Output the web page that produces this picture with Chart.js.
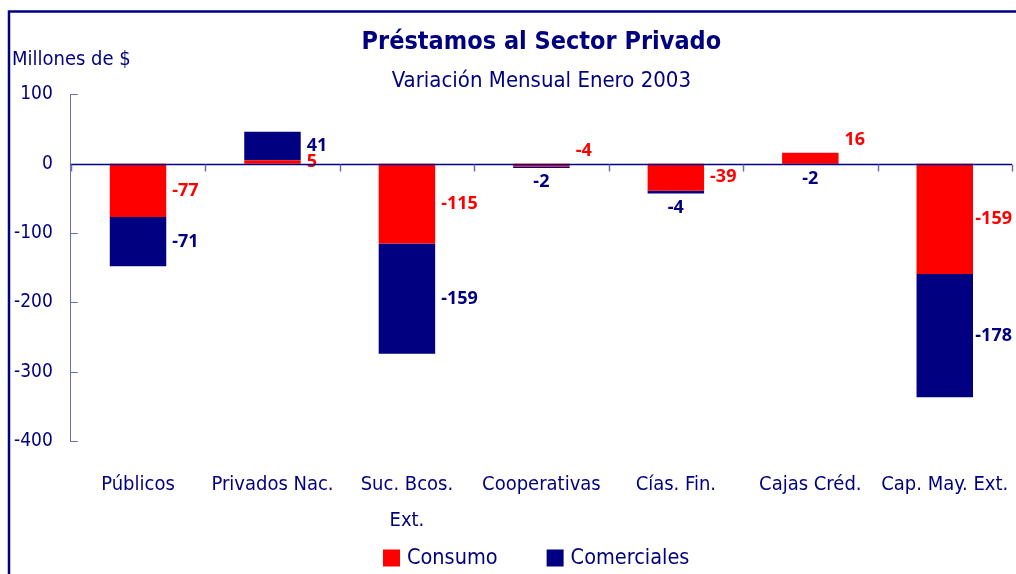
<!DOCTYPE html>
<html>
<head>
<meta charset="utf-8">
<script src="https://cdn.jsdelivr.net/npm/chart.js@4.4.0/dist/chart.umd.min.js"></script>
<style>
  html, body { margin: 0; padding: 0; background: #fff; }
  #wrap { width: 1016px; height: 574px; position: relative; }
</style>
</head>
<body>
<div id="wrap"><canvas id="chart" width="1016" height="574"></canvas></div>
<script>
// ── Data ────────────────────────────────────────────────────────────────
const categories = ['Públicos', 'Privados Nac.', ['Suc. Bcos.', 'Ext.'], 'Cooperativas', 'Cías. Fin.', 'Cajas Créd.', 'Cap. May. Ext.'];
const consumo     = [-77, 5, -115, -4, -39, 16, -159];
const comerciales = [-71, 41, -159, -2, -4, -2, -178];
const yTicks      = [100, 0, -100, -200, -300, -400];

// where each value label sits relative to its bar segment
const consumoLabelPos     = ['right', 'right', 'right', 'aboveRight', 'right', 'aboveRight', 'right'];
const comercialesLabelPos = ['right', 'right', 'right', 'below', 'below', 'below', 'right'];

const NAVY = '#000080';
const RED = '#FF0000';
const AXIS = '#6C6CB0';
const FONT = '"DejaVu Sans Condensed", "DejaVu Sans", sans-serif';
const LABEL_FONT = '"Noto Sans", sans-serif';

// ── Value labels beside the segments ───────────────────────────────────
const barLabels = {
  id: 'barLabels',
  afterDatasetsDraw(chart) {
    const { ctx, chartArea } = chart;
    ctx.save();
    ctx.font = `bold 18px ${LABEL_FONT}`;
    ctx.textBaseline = 'middle';
    chart.data.datasets.forEach((ds, di) => {
      const meta = chart.getDatasetMeta(di);
      meta.data.forEach((bar, i) => {
        const { x, y, base, width } = bar.getProps(['x', 'y', 'base', 'width'], true);
        const top = Math.min(y, base), bottom = Math.max(y, base);
        const txt = String(ds.data[i]);
        let tx = x + width / 2 + 6, ty = (top + bottom) / 2;
        ctx.textAlign = 'left';
        const pos = ds.labelPos[i];
        if (pos === 'below') { tx = x; ty = bottom + 14; ctx.textAlign = 'center'; }
        if (pos === 'aboveRight') { ty = top - 13; }
        // keep labels inside the plot on the right
        if (ctx.textAlign === 'left') {
          tx = Math.min(tx, chartArea.right - ctx.measureText(txt).width);
        }
        ctx.fillStyle = ds.backgroundColor;
        ctx.fillText(txt, tx, ty);
      });
    });
    ctx.restore();
  }
};

// ── Frame, zero line, ticks, unit label, legend ────────────────────────
const decorations = {
  id: 'decorations',
  afterDraw(chart) {
    const { ctx, chartArea: a, scales: { y } } = chart;
    ctx.save();

    // outer frame (left + top visible)
    ctx.strokeStyle = NAVY;
    ctx.lineWidth = 2.5;
    ctx.beginPath();
    ctx.moveTo(9, 574); ctx.lineTo(9, 11.5); ctx.lineTo(1016, 11.5);
    ctx.stroke();

    // inward y ticks
    ctx.strokeStyle = AXIS;
    ctx.lineWidth = 1;
    yTicks.forEach(v => {
      if (v === 0) return;
      const py = Math.round(y.getPixelForValue(v)) + 0.5;
      ctx.beginPath(); ctx.moveTo(a.left, py); ctx.lineTo(a.left + 7, py); ctx.stroke();
    });

    // zero line
    const zy = Math.round(y.getPixelForValue(0)) + 0.5;
    ctx.strokeStyle = NAVY;
    ctx.lineWidth = 1.5;
    ctx.beginPath(); ctx.moveTo(a.left, zy); ctx.lineTo(a.right, zy); ctx.stroke();

    // category ticks under the zero line
    ctx.strokeStyle = AXIS;
    ctx.lineWidth = 1.5;
    const step = (a.right - a.left) / categories.length;
    for (let i = 0; i <= categories.length; i++) {
      const px = Math.round(a.left + i * step) + 0.5;
      ctx.beginPath(); ctx.moveTo(px, zy); ctx.lineTo(px, zy + 7); ctx.stroke();
    }

    // unit label
    ctx.fillStyle = NAVY;
    ctx.font = `20px ${FONT}`;
    ctx.textAlign = 'left';
    ctx.textBaseline = 'middle';
    ctx.fillText('Millones de $', 12, 60);

    // legend
    ctx.font = `21.5px ${FONT}`;
    let lx = 383;
    const ly = 558;
    chart.data.datasets.forEach(ds => {
      ctx.fillStyle = ds.backgroundColor;
      ctx.fillRect(lx, ly - 8.5, 17, 17);
      ctx.fillStyle = NAVY;
      ctx.fillText(ds.label, lx + 24, ly);
      lx += 24 + ctx.measureText(ds.label).width + 49;
    });

    ctx.restore();
  }
};

new Chart(document.getElementById('chart'), {
  type: 'bar',
  data: {
    labels: categories,
    datasets: [
      { label: 'Consumo', data: consumo, backgroundColor: RED, labelPos: consumoLabelPos,
        categoryPercentage: 1, barPercentage: 0.42 },
      { label: 'Comerciales', data: comerciales, backgroundColor: NAVY, labelPos: comercialesLabelPos,
        categoryPercentage: 1, barPercentage: 0.42 }
    ]
  },
  options: {
    responsive: false,
    animation: false,
    layout: { autoPadding: false, padding: { left: -4, right: 4, top: 0, bottom: 33 } },
    plugins: {
      legend: { display: false },
      tooltip: { enabled: false },
      title: {
        display: true,
        fullSize: false,
        text: 'Préstamos al Sector Privado',
        color: NAVY,
        font: { family: FONT, size: 25, weight: 'bold' },
        padding: { top: 27, bottom: 7 }
      },
      subtitle: {
        display: true,
        fullSize: false,
        text: 'Variación Mensual Enero 2003',
        color: NAVY,
        font: { family: FONT, size: 22 },
        padding: { top: 4, bottom: 0 }
      }
    },
    scales: {
      x: {
        stacked: true,
        grid: { display: true, drawOnChartArea: false, drawTicks: true, tickLength: 24, color: 'rgba(0,0,0,0)' },
        border: { display: false },
        ticks: {
          color: NAVY, padding: 2, maxRotation: 0, autoSkip: false,
          font: { family: FONT, size: 20, lineHeight: 1.8 }
        }
      },
      y: {
        stacked: true,
        min: -400, max: 100,
        afterBuildTicks: axis => { axis.ticks = yTicks.map(v => ({ value: v })); },
        grid: { display: false, drawTicks: false },
        border: { display: true, color: AXIS, width: 1 },
        ticks: {
          color: NAVY, padding: 18,
          font: { family: FONT, size: 19 }
        }
      }
    }
  },
  plugins: [barLabels, decorations]
});
</script>
</body>
</html>
